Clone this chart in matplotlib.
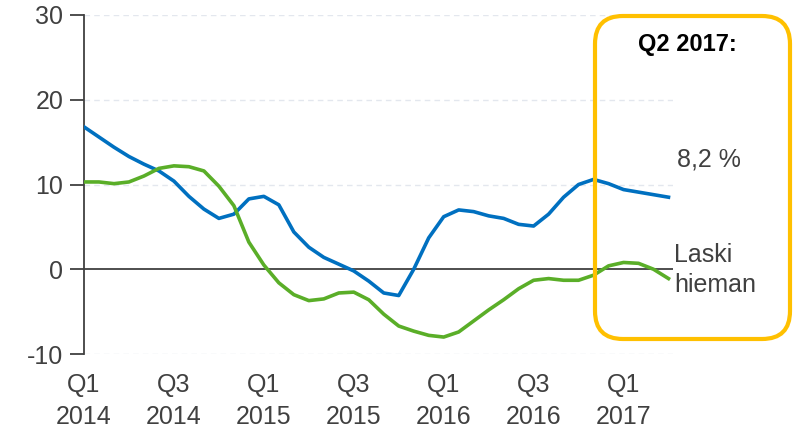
import numpy as np
import matplotlib.pyplot as plt
from matplotlib.patches import FancyBboxPatch

# kuukausittaiset arvot, Q1 2014 ... Q2 2017
months = np.arange(40)
blue = [16.8, 15.6, 14.4, 13.3, 12.4, 11.6, 10.4, 8.6, 7.1, 6.0,
        6.5, 8.3, 8.6, 7.6, 4.4, 2.6, 1.4, 0.6, -0.2, -1.4,
        -2.8, -3.1, 0.0, 3.7, 6.2, 7.0, 6.8, 6.3, 6.0, 5.3,
        5.1, 6.5, 8.5, 10.0, 10.6, 10.1, 9.4, 9.1, 8.8, 8.5]
green = [10.3, 10.3, 10.1, 10.3, 11.0, 11.9, 12.2, 12.1, 11.6, 9.8,
         7.5, 3.2, 0.5, -1.6, -3.0, -3.7, -3.5, -2.8, -2.7, -3.6,
         -5.3, -6.7, -7.3, -7.8, -8.0, -7.4, -6.1, -4.8, -3.6, -2.3,
         -1.3, -1.1, -1.3, -1.3, -0.7, 0.4, 0.8, 0.7, 0.0, -1.1]
tick_pos = [0, 6, 12, 18, 24, 30, 36]
tick_labels = ["Q1\n2014", "Q3\n2014", "Q1\n2015", "Q3\n2015",
               "Q1\n2016", "Q3\n2016", "Q1\n2017"]
yticks = [-10, 0, 10, 20, 30]

plt.rcParams['font.family'] = ['Liberation Sans', 'DejaVu Sans']
W, H = 798, 434
fig = plt.figure(figsize=(W / 100, H / 100), dpi=100)
ax = fig.add_axes([84 / W, 1 - 354 / H, (673 - 84) / W, (354 - 15) / H])

for y in [-10, 10, 20, 30]:
    ax.axhline(y, color='#e3e7ee', lw=1, ls=(0, (4, 3)), zorder=0)
ax.axhline(0, color='#404040', lw=1.3, zorder=1)

ax.plot(months, blue, color='#0070c0', lw=2.6, solid_joinstyle='round', zorder=3)
ax.plot(months, green, color='#5aae28', lw=2.6, solid_joinstyle='round', zorder=3)

ax.set_xlim(0, 39.3)
ax.set_ylim(-10, 30)
ax.set_yticks(yticks)
ax.set_yticklabels([str(v) for v in yticks])
ax.set_xticks(tick_pos)
ax.set_xticklabels(tick_labels, linespacing=1.4)
ax.tick_params(axis='y', length=10, width=1.3, color='#404040',
               labelsize=18, labelcolor='#404040', pad=5)
ax.tick_params(axis='x', length=0, labelsize=18, labelcolor='#404040', pad=14)
for s in ['top', 'right', 'bottom']:
    ax.spines[s].set_visible(False)
ax.spines['left'].set_color('#404040')
ax.spines['left'].set_linewidth(1.3)

# keltainen laatikko
x0, y0, x1, y1 = 595, 16, 790, 339
box = FancyBboxPatch((x0 / W, 1 - y1 / H), (x1 - x0) / W, (y1 - y0) / H,
                     boxstyle="round,pad=0,rounding_size=0.035",
                     transform=fig.transFigure, fill=False,
                     edgecolor='#ffc000', lw=3, mutation_aspect=W / H)
fig.patches.append(box)

fig.text(687 / W, 1 - 44 / H, "Q2 2017:", fontsize=17, fontweight='bold',
         ha='center', va='center', color='black')
fig.text(677 / W, 1 - 160 / H, "8,2 %", fontsize=18, ha='left',
         va='center', color='#404040')
fig.text(674 / W, 1 - 270 / H, "Laski\nhieman", fontsize=18, ha='left',
         va='center', color='#404040', linespacing=1.3)

fig.savefig("out.png", dpi=100)
